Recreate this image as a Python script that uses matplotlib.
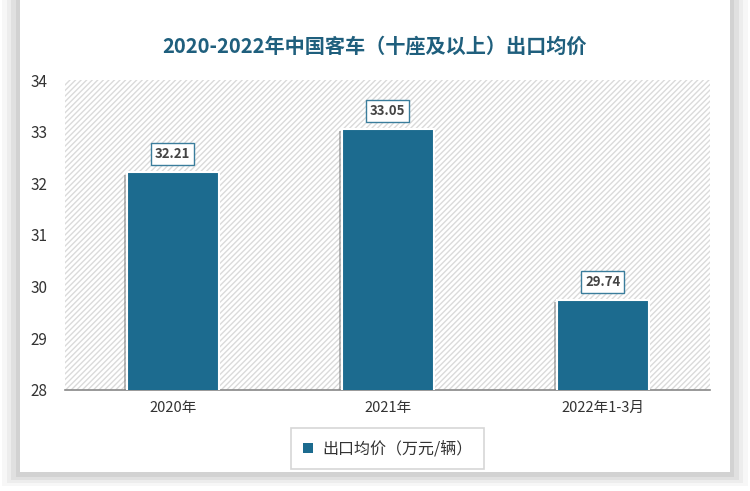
import matplotlib
matplotlib.use('Agg')
import matplotlib.pyplot as plt
from matplotlib.patches import Rectangle
import matplotlib.patheffects as pe

plt.rcParams['font.family'] = ['Noto Sans CJK SC', 'DejaVu Sans']

categories = ['2020年', '2021年', '2022年1-3月']
values = [32.21, 33.05, 29.74]
series_name = '出口均价（万元/辆）'
title = '2020-2022年中国客车（十座及以上）出口均价'

BAR_COLOR = '#1c6b8f'
TITLE_COLOR = '#1f5f7d'

fig = plt.figure(figsize=(7.5, 4.91), dpi=100)

# card shadow + white card
for i, a in enumerate([0.03, 0.04, 0.05, 0.06]):
    off = 0.006 * (4 - i)
    fig.patches.append(Rectangle((0.027 - off, 0.035 - off), 0.946 + 2 * off, 0.965 + off,
                                 transform=fig.transFigure, facecolor='#000000',
                                 alpha=a, edgecolor='none', zorder=0))
fig.patches.append(Rectangle((0.027, 0.038), 0.946, 0.962, transform=fig.transFigure,
                             facecolor='white', edgecolor='none', zorder=1))

ax = fig.add_axes([0.087, 0.206, 0.86, 0.631])
ax.set_zorder(2)
ax.patch.set_alpha(0)
ax.add_patch(Rectangle((0, 0), 1, 1, transform=ax.transAxes, facecolor='white',
                       edgecolor='#dadada', hatch='//////', linewidth=0, zorder=0))

x = range(len(categories))
bars = ax.bar(x, values, width=0.43, color=BAR_COLOR, edgecolor='white', linewidth=1.5,
              zorder=3)
for b in bars:
    b.set_path_effects([pe.SimplePatchShadow(offset=(-1.5, -1.5), shadow_rgbFace='#777777', alpha=0.5),
                        pe.Normal()])

for xi, v in zip(x, values):
    ax.annotate(f'{v:.2f}', (xi, v), xytext=(0, 8), textcoords='offset points',
                ha='center', va='bottom', fontsize=9.5, fontweight='bold', color='#444444',
                bbox=dict(boxstyle='square,pad=0.3', facecolor='white', edgecolor='#3a7d9c',
                          linewidth=1), zorder=5)

ax.set_ylim(28, 34)
ax.set_xlim(-0.5, 2.5)
ax.set_xticks(list(x))
ax.set_xticklabels(categories, fontsize=10.5, color='#333333')
ax.set_yticks(range(28, 35))
ax.tick_params(axis='y', labelsize=11, colors='#333333', length=0, pad=13)
ax.tick_params(axis='x', length=0, pad=8)
for s in ['top', 'right', 'left']:
    ax.spines[s].set_visible(False)
ax.spines['bottom'].set_color('#888888')
ax.spines['bottom'].set_linewidth(1.2)

fig.text(0.5, 0.905, title, ha='center', va='center', fontsize=14.5, fontweight='bold',
         color=TITLE_COLOR, zorder=3)

leg = ax.legend(bars[:1], [series_name], loc='center', bbox_to_anchor=(0.5, -0.19),
                frameon=True, fontsize=11.5, handlelength=0.6, handleheight=0.6,
                borderpad=0.75, fancybox=False, handletextpad=0.6)
leg.get_frame().set_edgecolor('#cccccc')
leg.get_frame().set_linewidth(1.2)
for h in leg.legend_handles:
    h.set_path_effects([])
    h.set_edgecolor('none')
for t in leg.get_texts():
    t.set_color('#333333')

fig.savefig('out.png', dpi=100)
